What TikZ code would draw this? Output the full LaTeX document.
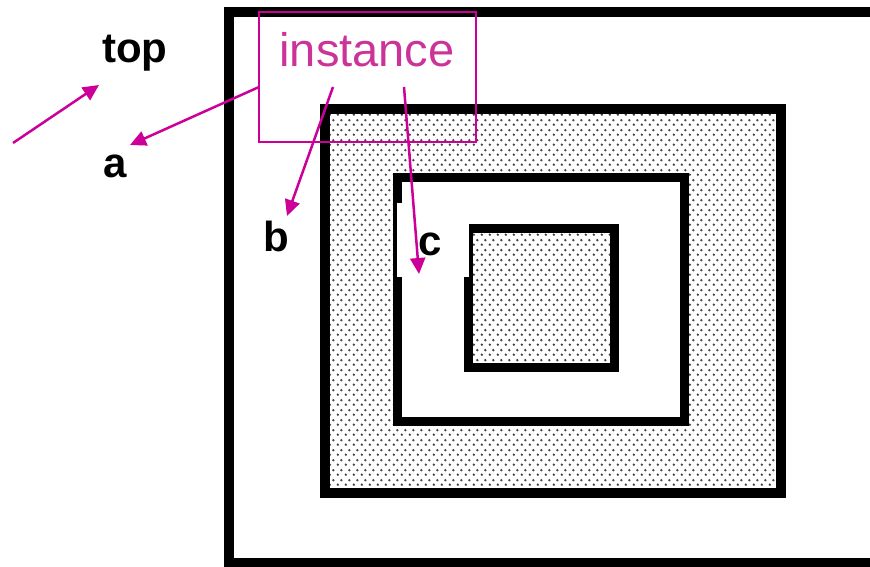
\documentclass[tikz,border=0pt]{standalone}
\usepackage{fontspec}
\setmainfont{Liberation Sans}
\usetikzlibrary{arrows.meta,positioning,patterns.meta}
\definecolor{instline}{RGB}{204,0,153}
\definecolor{insttext}{RGB}{204,51,153}
\tikzdeclarepattern{
  name=stipple, type=uncolored,
  bounding box={(0,0) and (8pt,10pt)},
  tile size={(8pt,10pt)},
  code={\fill (2pt,2.5pt) circle (1.4pt); \fill (6pt,7.5pt) circle (1.4pt);}
}
\begin{document}
\begin{tikzpicture}[
  x=1pt, y=-1pt,
  >={Triangle[length=16pt, width=15pt]},
  frame/.style={draw=black, line width=10pt},
  shaded/.style={frame, pattern={stipple}, pattern color=black!75},
  lbl/.style={font=\fontsize{42}{46}\selectfont\bfseries, inner sep=0pt, anchor=base west},
  instbox/.style={draw=instline, line width=2pt, minimum width=217pt, minimum height=130pt},
  pointer/.style={->, draw=instline, fill=instline, line width=2.5pt}
]
  \useasboundingbox (0,0) rectangle (870,567);
  \clip (0,0) rectangle (870,567);
  % nested regions
  \draw[frame, fill=white] (229,12.5) rectangle (900,563);
  \draw[shaded] (325,109.5) rectangle (781,493);
  \draw[frame, line width=9pt, fill=white] (397.5,177.5) rectangle (684.5,421);
  \draw[shaded, line width=9pt] (468.5,228) rectangle (614,367);
  \fill[white] (397,203) rectangle (469,277);
  % labels
  \node[lbl] (top) at (102,63) {top};
  \node[lbl] (a) at (103,177) {a};
  \node[lbl] (b) at (263,251) {b};
  \node[lbl] (c) at (418,255) {c};
  % instance box
  \node[instbox] (inst) at (367.5,77) {};
  \node[font=\fontsize{47}{50}\selectfont, text=insttext, inner sep=0pt, anchor=base]
    (insttxt) at (367,67) {instance};
  \coordinate (start) at (13,143);
  \coordinate (ina) at (259,87);
  \coordinate (inb) at (333,87);
  \coordinate (inc) at (404,87);
  \coordinate (tiptop) at (99,85);
  \coordinate (tipa) at (130,145);
  \coordinate (tipb) at (287,216);
  \coordinate (tipc) at (419,274);
  \draw[pointer] (start) -- (tiptop);
  \draw[pointer] (ina) -- (tipa);
  \draw[pointer] (inb) -- (tipb);
  \draw[pointer] (inc) -- (tipc);
\end{tikzpicture}
\end{document}
